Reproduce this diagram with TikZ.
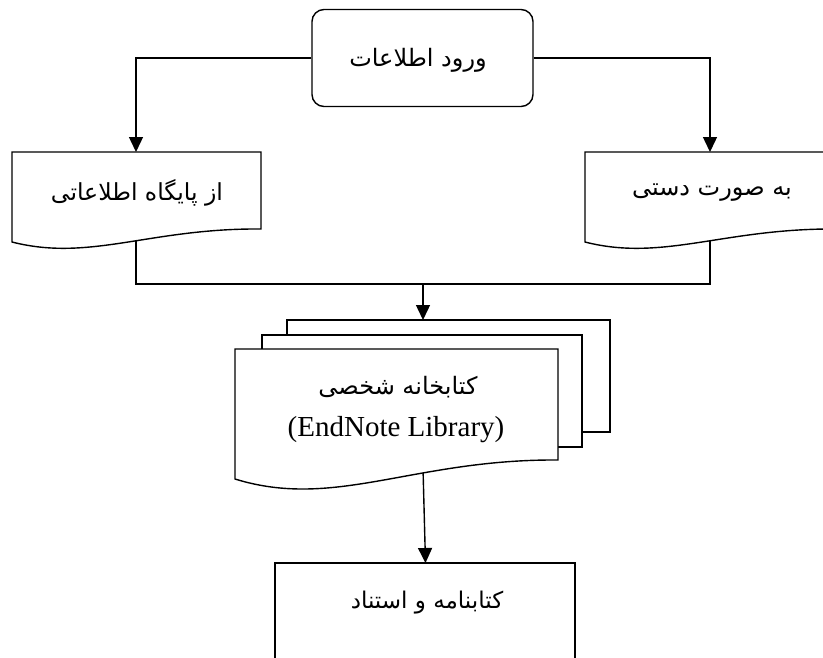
\documentclass[tikz,border=0pt]{standalone}
\usepackage{fontspec}
\setmainfont{Liberation Serif}
\newfontfamily\arabicfont[Script=Arabic]{DejaVu Sans}
\TeXXeTstate=1
\usetikzlibrary{arrows.meta}
\begin{document}
\begin{tikzpicture}[x=1pt,y=-1pt,line width=1.4pt,line join=miter,
  arr/.style={-{Triangle[length=15pt,width=14pt]}},
  ar/.style={font=\arabicfont\fontsize{24}{28}\selectfont,inner sep=0pt},
  lat/.style={font=\fontsize{29}{33}\selectfont,inner sep=0pt},
  page/.style={draw,fill=white}]
\useasboundingbox (0,0) rectangle (823,657);
\clip (0,0) rectangle (823,657);

% named points
\coordinate (ldtop) at (136,152);
\coordinate (rdtop) at (710,152);
\coordinate (ldin) at (136,230);
\coordinate (rdin) at (710,230);
\coordinate (mrg) at (423,284);
\coordinate (backtop) at (423,320);
\coordinate (fdbot) at (423,468);
\coordinate (bbtop) at (425.5,563);

% top box
\node[draw,rounded corners=12pt,minimum width=221pt,minimum height=97pt,inner sep=0pt] (top) at (422.5,58) {};
\node[ar] (toptext) at (418,60) {\beginR ورود اطلاعات\endR};

% connectors hidden under documents
\draw (ldin) -- (ldin |- mrg) -- (rdin |- mrg) -- (rdin);
\draw[arr] (mrg) -- (backtop);
\draw[arr] (fdbot) -- (bbtop);

% left document
\draw[page] (12,152) -- (261,152) -- (261,229) .. controls (150,228) and (90,262) .. (12,242) -- cycle;
\node[ar,font=\arabicfont\fontsize{23.5}{28}\selectfont] (ldtext) at (137,193) {\beginR از پایگاه اطلاعاتی\endR};

% right document
\draw[page] (585,152) -- (837,152) -- (837,229) .. controls (724,228) and (663,262) .. (585,242) -- cycle;
\node[ar] (rdtext) at (712,193) {\beginR به صورت دستی\endR};

% arrows from top box
\draw[arr] (top.west) -| (ldtop);
\draw[arr] (top.east) -| (rdtop);

% multi-document
\draw[page] (287,320) rectangle (610,432);
\draw[page] (262,335) rectangle (582,447);
\draw[page] (235,349) -- (558,349) -- (558,460) .. controls (413,459) and (335,510) .. (235,479) -- cycle;
\node[ar] (fdtext1) at (398,387) {\beginR کتابخانه شخصی\endR};
\node[lat] (fdtext2) at (396,430) {(EndNote Library)};

% bottom box
\draw (275,690) -- (275,563) -- (575,563) -- (575,690);
\node[ar,font=\arabicfont\fontsize{23}{28}\selectfont] (bbtext) at (427,603) {\beginR کتابنامه و استناد\endR};
\end{tikzpicture}
\end{document}
